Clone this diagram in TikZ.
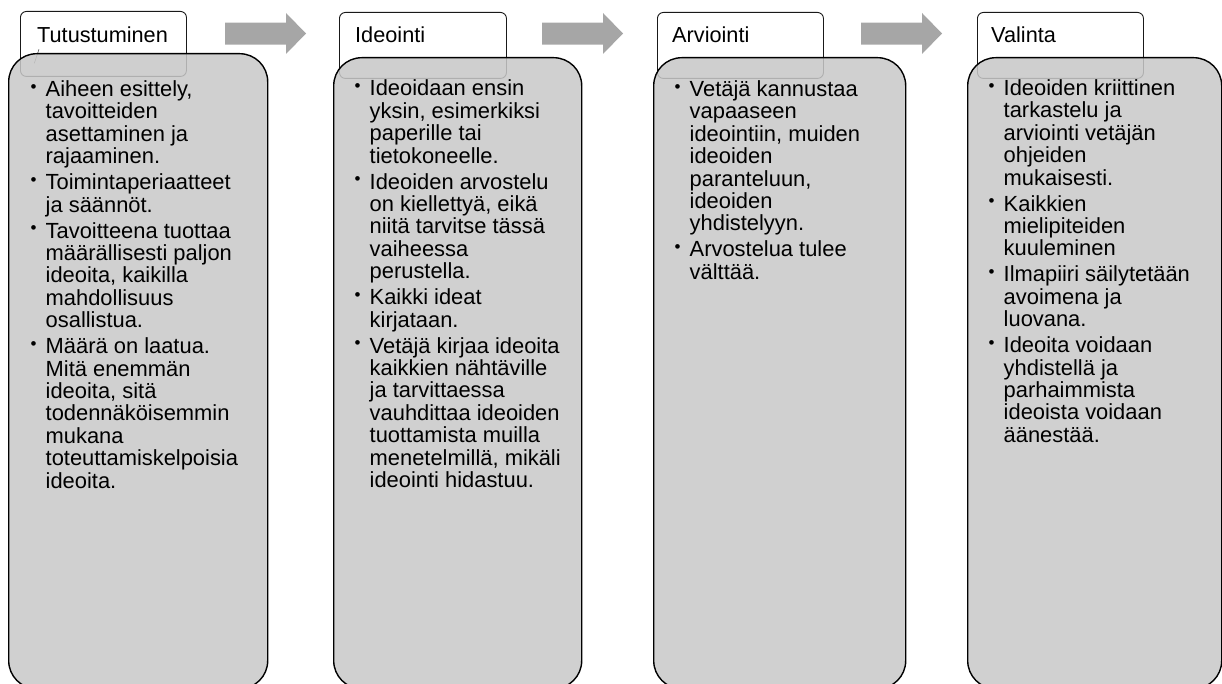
\documentclass[tikz,border=0pt]{standalone}
\usepackage{fontspec}
\setmainfont{Liberation Sans}
\definecolor{boxgray}{RGB}{200,200,200}
\definecolor{arrgray}{RGB}{166,166,166}
\newcommand\itm[1]{\hangindent=15pt\hangafter=1\noindent\makebox[15pt][l]{\raisebox{4.2pt}{\fontsize{17}{17}\selectfont •}}#1\par}
\newcommand\colbody[1]{\parbox[t]{255pt}{\fontsize{21.9}{22.4}\selectfont\setlength{\parskip}{3.6pt}#1}}
\tikzset{
  hdr/.style={draw=black!90, line width=0.9pt, rounded corners=6pt, fill=white,
    minimum width=166pt, minimum height=#1, inner sep=0pt, anchor=north west},
  gbox/.style={draw=black, line width=1.4pt, rounded corners=28pt, fill=boxgray,
    fill opacity=0.86, inner sep=0pt, anchor=north west},
  htext/.style={inner sep=0pt, anchor=base west, font=\fontsize{21.7}{22.6}\selectfont},
  btext/.style={inner sep=0pt, anchor=base west},
  arr/.style={fill=arrgray}
}
\begin{document}
\begin{tikzpicture}[x=1pt,y=-1pt]
\useasboundingbox (0,0) rectangle (1222,684);
% block arrows
\foreach \x in {225,542,861}{
  \fill[arr] (\x,22.7) -- ++(61,0) -- ++(0,-9.7) -- ++(20,20.5) -- ++(-20,20.5) -- ++(0,-9.3) -- ++(-61,0) -- cycle;
}
% headers
\node[hdr=65pt] (h1) at (20,11) {};
\node[hdr=66pt, minimum width=167pt] (h2) at (339,12) {};
\node[hdr=66pt] (h3) at (657,12) {};
\node[hdr=66pt] (h4) at (977,12) {};
\node[htext] (t1) at (37,43) {Tutustuminen};
\node[htext] (t2) at (355,43) {Ideointi};
\node[htext] (t3) at (672,43) {Arviointi};
\node[htext] (t4) at (991,43) {Valinta};
\coordinate (s1) at (34.3,63.3);
\coordinate (s2) at (39,49.3);
\draw[black!70, line width=0.6pt] (s1) -- (s2);
% gray boxes
\node[gbox, minimum width=259pt, minimum height=635pt] (g1) at (8,53) {};
\node[gbox, minimum width=248pt, minimum height=631pt] (g2) at (333,57) {};
\node[gbox, minimum width=252pt, minimum height=631pt] (g3) at (653,57) {};
\node[gbox, minimum width=254pt, minimum height=631pt] (g4) at (967,57) {};
% body texts
\node[btext] (b1) at (30.5,96.5) {\colbody{%
\itm{Aiheen esittely,\\tavoitteiden\\asettaminen ja\\rajaaminen.}
\itm{Toimintaperiaatteet\\ja säännöt.}
\itm{Tavoitteena tuottaa\\määrällisesti paljon\\ideoita, kaikilla\\mahdollisuus\\osallistua.}
\itm{Määrä on laatua.\\Mitä enemmän\\ideoita, sitä\\todennäköisemmin\\mukana\\toteuttamiskelpoisia\\ideoita.}}};
\node[btext] (b2) at (354.5,96) {\colbody{%
\itm{Ideoidaan ensin\\yksin, esimerkiksi\\paperille tai\\tietokoneelle.}
\itm{Ideoiden arvostelu\\on kiellettyä, eikä\\niitä tarvitse tässä\\vaiheessa\\perustella.}
\itm{Kaikki ideat\\kirjataan.}
\itm{Vetäjä kirjaa ideoita\\kaikkien nähtäville\\ja tarvittaessa\\vauhdittaa ideoiden\\tuottamista muilla\\menetelmillä, mikäli\\ideointi hidastuu.}}};
\node[btext] (b3) at (674.5,96.5) {\colbody{%
\itm{Vetäjä kannustaa\\vapaaseen\\ideointiin, muiden\\ideoiden\\paranteluun,\\ideoiden\\yhdistelyyn.}
\itm{Arvostelua tulee\\välttää.}}};
\node[btext] (b4) at (988.5,95.5) {\colbody{%
\itm{Ideoiden kriittinen\\tarkastelu ja\\arviointi vetäjän\\ohjeiden\\mukaisesti.}
\itm{Kaikkien\\mielipiteiden\\kuuleminen}
\itm{Ilmapiiri säilytetään\\avoimena ja\\luovana.}
\itm{Ideoita voidaan\\yhdistellä ja\\parhaimmista\\ideoista voidaan\\äänestää.}}};
\end{tikzpicture}
\end{document}
